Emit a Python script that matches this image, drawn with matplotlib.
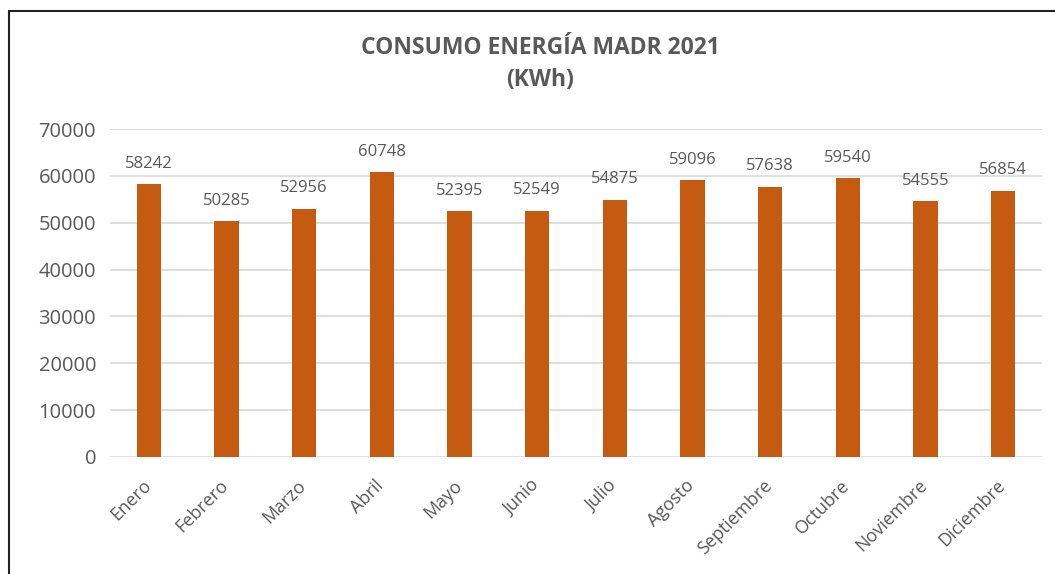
import matplotlib.pyplot as plt
from matplotlib.patches import Rectangle
from matplotlib.transforms import ScaledTranslation

# datos del gráfico
meses = ['Enero', 'Febrero', 'Marzo', 'Abril', 'Mayo', 'Junio', 'Julio',
         'Agosto', 'Septiembre', 'Octubre', 'Noviembre', 'Diciembre']
consumo = [58242, 50285, 52956, 60748, 52395, 52549, 54875,
           59096, 57638, 59540, 54555, 56854]
yticks = [0, 10000, 20000, 30000, 40000, 50000, 60000, 70000]

plt.rcParams['font.family'] = ['Open Sans', 'DejaVu Sans']
gris = '#595959'

fig = plt.figure(figsize=(10.55, 5.74), dpi=100)
ax = fig.add_axes([110 / 1055, 1 - 457 / 574, (1042 - 110) / 1055, (457 - 129) / 574])

x = range(len(meses))
ax.bar(x, consumo, width=0.31, color='#C55A11', zorder=3)

# etiquetas de valor encima de cada barra
for xi, v in zip(x, consumo):
    ax.annotate(str(v), (xi, v), xytext=(0, 9), textcoords='offset points',
                ha='center', va='bottom', fontsize=12, color=gris)

ax.set_ylim(0, 70000)
ax.set_xlim(-0.5, len(meses) - 0.5)
ax.set_yticks(yticks)
ax.set_yticklabels([str(t) for t in yticks], fontsize=14.5, color=gris)
ax.set_xticks(list(x))
ax.set_xticklabels(meses, rotation=45, ha='right', rotation_mode='anchor',
                   fontsize=13, color=gris)
ax.tick_params(axis='both', length=0, pad=10)
ax.tick_params(axis='x', pad=14)
# desplazar un poco las etiquetas del eje x hacia la izquierda
desplaz = ScaledTranslation(-5 / 72, 0, fig.dpi_scale_trans)
for lab in ax.get_xticklabels():
    lab.set_transform(lab.get_transform() + desplaz)
ax.grid(axis='y', color='#D9D9D9', linewidth=1.2, zorder=0)
for s in ax.spines.values():
    s.set_visible(False)

fig.text(540 / 1055, 1 - 48 / 574, 'CONSUMO ENERGÍA MADR 2021', ha='center', va='center',
         fontsize=16.5, fontweight='bold', color=gris)
fig.text(540 / 1055, 1 - 80 / 574, '(KWh)', ha='center', va='center',
         fontsize=16.5, fontweight='bold', color=gris)

# marco del gráfico
fig.patches.append(Rectangle((8.5 / 1055, -0.05), 1.1, 1.05 - 10.5 / 574,
                             transform=fig.transFigure, fill=False,
                             edgecolor='#222222', linewidth=1.5))

fig.savefig('out.png', dpi=100)
